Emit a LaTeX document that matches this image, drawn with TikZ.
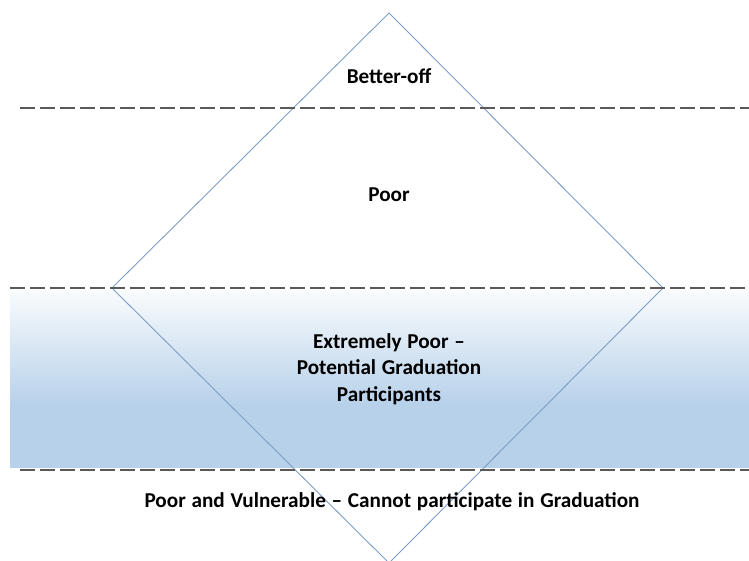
\documentclass[tikz,border=0pt]{standalone}
\usepackage{fontspec}
\setmainfont[WordSpace=1.2]{Carlito}
\usetikzlibrary{positioning}
\definecolor{bandblue}{RGB}{183,209,234}
\definecolor{edgeblue}{RGB}{125,158,196}
\definecolor{dashgray}{RGB}{90,90,90}
\tikzset{
	level/.style={draw=dashgray, line width=2.2pt, dash pattern=on 15pt off 5pt},
	lbl/.style={font=\bfseries\fontsize{21.2}{26.5}\selectfont, align=center, inner sep=0pt},
}

\begin{document}
\begin{tikzpicture}[x=1pt, y=-1pt]
	\useasboundingbox (0,0) rectangle (749,560);
	
	%--- shaded band of the extremely poor (white at top, blue below)
	\shade[top color=white!92!bandblue, bottom color=bandblue] (10,290) rectangle (749,405);
	\fill[bandblue] (10,404.5) rectangle (749,468);
	
	%--- the diamond
	\coordinate (top) at (389,13);
	\coordinate (right) at (663,288);
	\coordinate (bot) at (389,563);
	\coordinate (left) at (112,288);
	\draw[edgeblue, line width=0.9pt] (top) -- (right) -- (bot) -- (left) -- cycle;
	
	%--- dashed level lines
	\foreach \y/\x in {108/20, 288/10, 470/20}{
		\draw[level] (\x,\y) -- (749,\y);}
	
	%--- labels of the levels
	\node[lbl] (better) at (389,76) {Better-off};
	\node[lbl] (poor) at (389,195) {Poor};
	\node[lbl] (extreme) at (389,369) {Extremely Poor –\\Potential Graduation\\Participants};
	\node[lbl] (vulnerable) at (392,502) {Poor and Vulnerable – Cannot participate in Graduation};
\end{tikzpicture}
\end{document}
